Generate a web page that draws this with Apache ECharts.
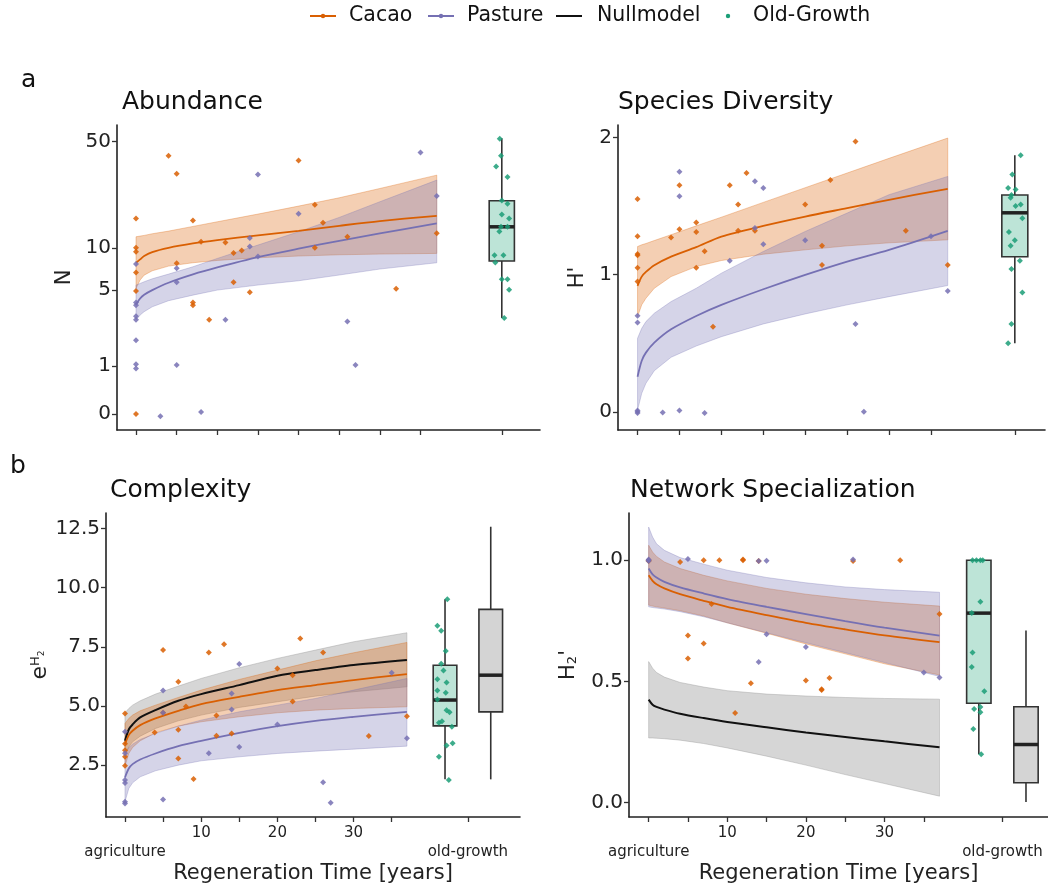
<!DOCTYPE html>
<html>
<head>
<meta charset="utf-8">
<script src="https://cdn.jsdelivr.net/npm/echarts@6/dist/echarts.min.js"></script>
<style>
  html, body { margin: 0; padding: 0; background: #fff; }
  #chart { width: 1048px; height: 888px; }
</style>
</head>
<body>
<div id="chart"></div>
<script>
var fitX = [0, 0.5, 1, 2, 4, 7, 10, 15, 20, 25, 30, 37];
var xTicks = [0, 5, 10, 15, 20, 25, 30, 35, 45];
var xTickLabels = [0, 10, 20, 30, 45];

// ---- a: Abundance (N, drawn on a log(N+1) axis)
var abTicks = [0, 1, 5, 10, 50];
var abCacaoFit = [7.87, 8.31, 8.77, 9.35, 10.0, 10.72, 11.3, 12.16, 13.07, 14.12, 15.18, 16.47];
var abCacaoHi = [11.91, 12.03, 12.16, 12.48, 13.0, 13.98, 15.02, 16.9, 19.09, 21.65, 24.9, 30.4];
var abCacaoLo = [5.13, 5.91, 6.42, 6.9, 7.45, 7.87, 8.17, 8.53, 8.77, 8.95, 9.05, 9.15];
var abPastFit = [3.86, 4.30, 4.59, 4.98, 5.65, 6.50, 7.29, 8.62, 9.86, 11.18, 12.54, 14.64];
var abPastHi = [5.43, 5.58, 5.74, 6.04, 6.53, 7.37, 8.44, 10.45, 12.87, 16.06, 20.39, 28.22];
var abPastLo = [2.88, 3.17, 3.38, 3.70, 4.13, 4.56, 4.98, 5.43, 5.84, 6.43, 7.10, 7.87];
var abCacaoPts = [[0,15.8],[0,10],[0,9.4],[0,6.7],[0,4.9],[0,0],[4,40.5],[5,31],[5,7.8],[7,15.3],[7,4],[7,3.8],[8,11],[9,2.9],[11,10.9],[12,9.2],[12,5.7],[13,9.6],[14,4.8],[20,37.8],[22,19.5],[22,10],[23,14.8],[26,11.9],[32,5.1],[37,12.6]];
var abPastPts = [[0,7.7],[0,4],[0,3.8],[0,3.1],[0,2.9],[0,1.9],[0,1.05],[0,0.93],[3,-0.03],[5,7.2],[5,5.7],[5,1.03],[8,0.03],[11,2.9],[14,11.7],[14,10.2],[15,30.7],[15,8.7],[20,17],[26,2.8],[27,1.03],[35,42.5],[37,22.2]];
var abOldPts = [[44.75,52],[44.9,40.5],[44.3,34.6],[45.7,29.6],[45,20.8],[45.7,19.8],[45,16.8],[45.9,15.8],[44.9,13.9],[45.7,13.9],[44.7,12.9],[44.1,8.9],[45.2,8.9],[44.2,7.9],[45,6],[45.7,6],[45.9,5],[45.3,3]];
var abOldBox = [45, 3.0, 8.1, 13.9, 20.7, 52.4];

// ---- a: Species Diversity (H')
var divTicks = [0, 1, 2];
var divCacaoFit = [0.917, 0.985, 1.019, 1.068, 1.131, 1.2, 1.277, 1.355, 1.423, 1.484, 1.545, 1.625];
var divCacaoHi = [1.204, 1.217, 1.226, 1.248, 1.29, 1.355, 1.418, 1.526, 1.633, 1.74, 1.847, 1.995];
var divCacaoLo = [0.693, 0.779, 0.827, 0.9, 0.985, 1.058, 1.102, 1.148, 1.18, 1.209, 1.231, 1.253];
var divPastFit = [0.255, 0.372, 0.431, 0.504, 0.601, 0.698, 0.779, 0.893, 0.998, 1.095, 1.18, 1.319];
var divPastHi = [0.535, 0.608, 0.657, 0.718, 0.803, 0.9, 1.01, 1.168, 1.314, 1.448, 1.582, 1.715];
var divPastLo = [0.012, 0.134, 0.207, 0.299, 0.397, 0.479, 0.547, 0.64, 0.713, 0.779, 0.839, 0.92];
var divCacaoPts = [[0,1.55],[0,1.28],[0,1.15],[0,1.14],[0,1.05],[0,0.95],[4,1.27],[5,1.65],[5,1.33],[7,1.38],[7,1.31],[7,1.05],[8,1.17],[9,0.62],[11,1.65],[12,1.51],[12,1.32],[13,1.74],[14,1.32],[20,1.51],[22,1.21],[22,1.07],[23,1.69],[26,1.97],[32,1.32],[37,1.07]];
var divPastPts = [[0,0.70],[0,0.65],[0,0],[0,-0.01],[0,0.01],[3,-0.005],[5,1.75],[5,1.57],[5,0.01],[8,-0.01],[11,1.10],[14,1.68],[14,1.34],[15,1.63],[15,1.22],[20,1.25],[26,0.64],[27,0],[35,1.28],[37,0.88]];
var divOldPts = [[45.7,1.87],[44.7,1.73],[44.2,1.63],[45.1,1.62],[44.5,1.56],[44.6,1.58],[45.7,1.51],[45.1,1.50],[45.9,1.41],[44.3,1.31],[45.0,1.25],[44.5,1.21],[45.6,1.10],[44.6,1.04],[45.9,0.87],[44.6,0.64],[44.2,0.50]];
var divOldBox = [45, 0.50, 1.13, 1.45, 1.58, 1.87];

// ---- b: Complexity (e^H2)
var cxTicks = [2.5, 5, 7.5, 10, 12.5];
var cxNullFit = [3.528, 4.007, 4.218, 4.514, 4.824, 5.218, 5.5, 5.88, 6.275, 6.514, 6.725, 6.937];
var cxNullHi = [4.711, 4.894, 5.035, 5.218, 5.5, 5.838, 6.162, 6.613, 7.007, 7.359, 7.711, 8.092];
var cxNullLo = [2.852, 3.275, 3.486, 3.725, 4.049, 4.373, 4.613, 4.937, 5.176, 5.415, 5.599, 5.81];
var cxCacaoFit = [3.387, 3.768, 3.951, 4.19, 4.472, 4.796, 5.077, 5.387, 5.669, 5.88, 6.092, 6.345];
var cxCacaoHi = [4.261, 4.472, 4.613, 4.796, 5.035, 5.359, 5.669, 6.12, 6.514, 6.908, 7.246, 7.683];
var cxCacaoLo = [2.458, 2.993, 3.246, 3.528, 3.866, 4.148, 4.331, 4.542, 4.711, 4.824, 4.894, 4.965];
var cxPastFit = [1.979, 2.359, 2.542, 2.739, 2.993, 3.303, 3.528, 3.866, 4.148, 4.373, 4.542, 4.754];
var cxPastHi = [2.965, 3.246, 3.387, 3.585, 3.838, 4.148, 4.401, 4.754, 5.035, 5.317, 5.669, 6.162];
var cxPastLo = [0.951, 1.514, 1.754, 2.007, 2.261, 2.5, 2.683, 2.852, 2.993, 3.092, 3.176, 3.303];
var cxCacaoPts = [[0,4.68],[0,3.4],[0,3.13],[0,2.85],[0,2.47],[3.9,3.88],[5,7.36],[5,4.71],[7,6.02],[7,4.0],[7,2.78],[8,4.98],[9,1.91],[11,7.26],[12,4.6],[12,3.74],[13,7.61],[14,3.84],[20,6.58],[22,6.30],[22,5.19],[23,7.85],[26,7.26],[32,3.73],[37,4.57]];
var cxPastPts = [[0,3.91],[0,3.0],[0,1.87],[0,1.75],[0,0.95],[0,0.88],[5,5.65],[5,4.71],[5,1.05],[11,3.0],[14,5.53],[14,4.85],[15,6.77],[15,3.27],[20,4.22],[26,1.78],[27,0.91],[35,6.4],[37,3.64]];
var cxOldPts = [[42.3,9.51],[41.0,8.39],[41.5,8.18],[42.1,7.32],[41.5,6.78],[41.8,6.5],[41.0,6.13],[42.2,5.99],[41.0,5.65],[42.1,5.56],[41.0,5.27],[42.2,4.82],[42.6,4.73],[41.2,4.29],[41.6,4.35],[42.9,4.12],[42.2,3.33],[43.0,3.43],[41.2,2.85],[42.5,1.87]];
var cxOldBox = [42, 1.9, 4.16, 5.25, 6.72, 9.51];
var cxNullBox = [48, 1.9, 4.75, 6.3, 9.08, 12.57];

// ---- b: Network Specialization (H2')
var nsTicks = [0, 0.5, 1.0];
var nsNullFit = [0.425, 0.404, 0.395, 0.384, 0.367, 0.349, 0.333, 0.311, 0.29, 0.271, 0.253, 0.229];
var nsNullHi = [0.582, 0.555, 0.537, 0.518, 0.496, 0.477, 0.462, 0.448, 0.44, 0.434, 0.43, 0.427];
var nsNullLo = [0.267, 0.267, 0.266, 0.264, 0.258, 0.244, 0.226, 0.192, 0.155, 0.116, 0.079, 0.027];
var nsCacaoFit = [0.938, 0.915, 0.901, 0.884, 0.86, 0.833, 0.808, 0.774, 0.742, 0.715, 0.69, 0.662];
var nsCacaoHi = [1.062, 1.034, 1.016, 0.993, 0.966, 0.938, 0.915, 0.884, 0.86, 0.842, 0.827, 0.811];
var nsCacaoLo = [0.815, 0.811, 0.808, 0.803, 0.792, 0.77, 0.742, 0.699, 0.655, 0.614, 0.573, 0.527];
var nsPastFit = [0.966, 0.942, 0.929, 0.911, 0.888, 0.863, 0.84, 0.808, 0.778, 0.749, 0.722, 0.689];
var nsPastHi = [1.137, 1.096, 1.068, 1.041, 1.011, 0.984, 0.959, 0.929, 0.907, 0.89, 0.879, 0.868];
var nsPastLo = [0.808, 0.805, 0.803, 0.799, 0.788, 0.767, 0.742, 0.701, 0.66, 0.619, 0.578, 0.521];
var nsCacaoPts = [[0,1.0],[0,0.997],[4,0.993],[5,0.69],[5,0.595],[7,1.0],[7,0.657],[8,0.82],[9,1.0],[11,0.37],[12,1.003],[12,1.0],[13,0.493],[14,0.997],[20,0.504],[22,0.468],[22,0.465],[23,0.514],[26,0.997],[32,1.0],[37,0.778]];
var nsPastPts = [[0,1.0],[0,0.997],[0,1.003],[5,1.005],[14,0.997],[14,0.58],[15,0.998],[15,0.695],[20,0.642],[26,1.003],[35,0.537],[37,0.516]];
var nsOldPts = [[41.2,1.0],[41.7,1.0],[42.2,1.0],[42.5,1.0],[42.2,0.829],[41.1,0.782],[41.2,0.62],[41.1,0.56],[42.7,0.46],[41.4,0.386],[42.2,0.395],[42.2,0.373],[41.3,0.304],[42.3,0.20]];
var nsOldBox = [42, 0.2, 0.41, 0.782, 1.0, 1.0];
var nsNullBox = [48, 0.003, 0.082, 0.24, 0.396, 0.71];

var ORANGE = '#D95F02', PURPLE = '#7570B3', GREEN = '#1B9E77', BLACK = '#111111';
var FONT = 'DejaVu Sans';
var ident = function (v) { return v; };

// confidence band as one polygon: upper edge left to right, lower edge back
function ribbon(gi, hi, lo, color, tf, op) {
    return {
        type: 'custom', xAxisIndex: gi, yAxisIndex: gi, z: 1, silent: true,
        data: [[fitX[0], tf(hi[0])]],
        renderItem: function (params, api) {
            var pts = [];
            for (var i = 0; i < fitX.length; i++) pts.push(api.coord([fitX[i], tf(hi[i])]));
            for (var j = fitX.length - 1; j >= 0; j--) pts.push(api.coord([fitX[j], tf(lo[j])]));
            return {
                type: 'polygon', shape: { points: pts },
                style: { fill: color, stroke: color, lineWidth: 1, opacity: op || 0.3 }
            };
        }
    };
}

function fitLine(gi, fit, color, tf, w) {
    return {
        type: 'line', xAxisIndex: gi, yAxisIndex: gi, z: 3, silent: true,
        showSymbol: false, smooth: 0.3,
        lineStyle: { color: color, width: w || 1.8 },
        data: fitX.map(function (x, i) { return [x, tf(fit[i])]; })
    };
}

function points(gi, pts, color, tf, z) {
    return {
        type: 'scatter', xAxisIndex: gi, yAxisIndex: gi, z: z || 4, silent: true,
        symbol: 'diamond', symbolSize: 6,
        itemStyle: { color: color, opacity: 0.85 },
        data: pts.map(function (p) { return [p[0], tf(p[1])]; })
    };
}

function box(gi, b, fill, tf) {
    var row = [b[0]].concat(b.slice(1).map(tf));
    return {
        type: 'custom', xAxisIndex: gi, yAxisIndex: gi, z: 2, silent: true,
        data: [row],
        renderItem: function (params, api) {
            var x = api.value(0);
            var half = api.size([1.55, 0])[0];
            var pMin = api.coord([x, api.value(1)]);
            var pQ1 = api.coord([x, api.value(2)]);
            var pMed = api.coord([x, api.value(3)]);
            var pQ3 = api.coord([x, api.value(4)]);
            var pMax = api.coord([x, api.value(5)]);
            var ln = { stroke: '#333', lineWidth: 1.6 };
            return {
                type: 'group', children: [
                    { type: 'line', shape: { x1: pMin[0], y1: pMin[1], x2: pQ1[0], y2: pQ1[1] }, style: ln },
                    { type: 'line', shape: { x1: pQ3[0], y1: pQ3[1], x2: pMax[0], y2: pMax[1] }, style: ln },
                    { type: 'rect', shape: { x: pQ1[0] - half, y: pQ3[1], width: 2 * half, height: pQ1[1] - pQ3[1] },
                      style: { fill: fill, stroke: '#333', lineWidth: 1.6 } },
                    { type: 'line', shape: { x1: pMed[0] - half, y1: pMed[1], x2: pMed[0] + half, y2: pMed[1] },
                      style: { stroke: '#222', lineWidth: 3.5 } }
                ]
            };
        }
    };
}

function xAxis(gi, min, max, labels) {
    return {
        type: 'value', gridIndex: gi, min: min, max: max,
        axisLine: { show: true, onZero: false, lineStyle: { color: '#222', width: 1.6 } },
        axisTick: { show: true, customValues: xTicks, length: 5, lineStyle: { color: '#333', width: 1.3 } },
        axisLabel: {
            show: labels, customValues: xTickLabels, fontSize: 15, color: '#222', fontFamily: FONT,
            lineHeight: 19, margin: 7,
            formatter: function (v) {
                if (v === 0) return '\nagriculture';
                if (v === 45) return '\nold-growth';
                return String(v);
            }
        },
        splitLine: { show: false },
        name: labels ? 'Regeneration Time [years]' : '',
        nameLocation: 'middle', nameGap: 44,
        nameTextStyle: { fontSize: 21, color: '#222', fontFamily: FONT }
    };
}

function yAxis(gi, min, max, ticks, tf, fmt, name, gap, rich) {
    var vals = ticks.map(tf);
    return {
        type: 'value', gridIndex: gi, min: min, max: max,
        axisLine: { show: true, onZero: false, lineStyle: { color: '#222', width: 1.6 } },
        axisTick: { show: true, customValues: vals, length: 5, lineStyle: { color: '#333', width: 1.3 } },
        axisLabel: { customValues: vals, fontSize: 20, color: '#222', fontFamily: FONT, margin: 6, formatter: fmt },
        splitLine: { show: false },
        name: name, nameLocation: 'middle', nameRotate: 90, nameGap: gap,
        nameTextStyle: { fontSize: 21, color: '#222', fontFamily: FONT, rich: rich }
    };
}

var chart = echarts.init(document.getElementById('chart'), null, { renderer: 'canvas' });

var series = [
    // Abundance
    ribbon(0, abCacaoHi, abCacaoLo, ORANGE, Math.log1p),
    ribbon(0, abPastHi, abPastLo, PURPLE, Math.log1p),
    fitLine(0, abCacaoFit, ORANGE, Math.log1p),
    fitLine(0, abPastFit, PURPLE, Math.log1p),
    points(0, abCacaoPts, ORANGE, Math.log1p),
    points(0, abPastPts, PURPLE, Math.log1p),
    box(0, abOldBox, '#bde4d7', Math.log1p),
    points(0, abOldPts, GREEN, Math.log1p, 5),
    // Species Diversity
    ribbon(1, divCacaoHi, divCacaoLo, ORANGE, ident),
    ribbon(1, divPastHi, divPastLo, PURPLE, ident),
    fitLine(1, divCacaoFit, ORANGE, ident),
    fitLine(1, divPastFit, PURPLE, ident),
    points(1, divCacaoPts, ORANGE, ident),
    points(1, divPastPts, PURPLE, ident),
    box(1, divOldBox, '#bde4d7', ident),
    points(1, divOldPts, GREEN, ident, 5),
    // Complexity
    ribbon(2, cxNullHi, cxNullLo, '#999999', ident, 0.4),
    ribbon(2, cxCacaoHi, cxCacaoLo, ORANGE, ident),
    ribbon(2, cxPastHi, cxPastLo, PURPLE, ident),
    fitLine(2, cxNullFit, BLACK, ident, 2),
    fitLine(2, cxCacaoFit, ORANGE, ident),
    fitLine(2, cxPastFit, PURPLE, ident),
    points(2, cxCacaoPts, ORANGE, ident),
    points(2, cxPastPts, PURPLE, ident),
    box(2, cxOldBox, '#bde4d7', ident),
    box(2, cxNullBox, '#d4d4d4', ident),
    points(2, cxOldPts, GREEN, ident, 5),
    // Network Specialization
    ribbon(3, nsNullHi, nsNullLo, '#999999', ident, 0.4),
    ribbon(3, nsCacaoHi, nsCacaoLo, ORANGE, ident),
    ribbon(3, nsPastHi, nsPastLo, PURPLE, ident),
    fitLine(3, nsNullFit, BLACK, ident, 2),
    fitLine(3, nsCacaoFit, ORANGE, ident),
    fitLine(3, nsPastFit, PURPLE, ident),
    points(3, nsCacaoPts, ORANGE, ident),
    points(3, nsPastPts, PURPLE, ident),
    box(3, nsOldBox, '#bde4d7', ident),
    box(3, nsNullBox, '#d4d4d4', ident),
    points(3, nsOldPts, GREEN, ident, 5)
];

function txt(x, y, s, size) {
    return { type: 'text', x: x, y: y, style: { text: s, fontSize: size, fill: '#111', fontFamily: FONT, verticalAlign: 'middle' } };
}

var legendY = 16;
var graphics = [
    { type: 'line', shape: { x1: 310, y1: legendY, x2: 336, y2: legendY }, style: { stroke: ORANGE, lineWidth: 2 } },
    { type: 'circle', shape: { cx: 323, cy: legendY, r: 2.2 }, style: { fill: ORANGE } },
    txt(349, legendY, 'Cacao', 20.5),
    { type: 'line', shape: { x1: 428, y1: legendY, x2: 454, y2: legendY }, style: { stroke: PURPLE, lineWidth: 2 } },
    { type: 'circle', shape: { cx: 441, cy: legendY, r: 2.2 }, style: { fill: PURPLE } },
    txt(467, legendY, 'Pasture', 20.5),
    { type: 'line', shape: { x1: 556, y1: legendY, x2: 582, y2: legendY }, style: { stroke: BLACK, lineWidth: 2 } },
    txt(597, legendY, 'Nullmodel', 20.5),
    { type: 'circle', shape: { cx: 728, cy: legendY, r: 2.2 }, style: { fill: GREEN } },
    txt(753, legendY, 'Old-Growth', 20.5),
    txt(21, 80, 'a', 25),
    txt(10, 466, 'b', 25),
    txt(122, 102, 'Abundance', 25),
    txt(618, 102, 'Species Diversity', 25),
    txt(110, 490, 'Complexity', 25),
    txt(630, 490, 'Network Specialization', 25)
];

chart.setOption({
    backgroundColor: '#ffffff',
    animation: false,
    textStyle: { fontFamily: FONT },
    grid: [
        { left: 117, top: 125, width: 423, height: 305 },
        { left: 618, top: 125, width: 427, height: 305 },
        { left: 106, top: 513, width: 414, height: 304 },
        { left: 629, top: 513, width: 419, height: 304 }
    ],
    xAxis: [
        xAxis(0, -2.34, 49.7, false),
        xAxis(1, -2.33, 48.6, false),
        xAxis(2, -2.49, 51.84, true),
        xAxis(3, -2.5, 50.8, true)
    ],
    yAxis: [
        yAxis(0, -0.23, 4.17, abTicks, Math.log1p, function (v) { return String(Math.round(Math.expm1(v))); }, 'N', 42),
        yAxis(1, -0.133, 2.09, divTicks, ident, function (v) { return String(v); }, "H'", 30),
        yAxis(2, 0.31, 13.15, cxTicks, ident, function (v) { return v.toFixed(1); },
            '{e|e}{h|H}{s|2}', 54,
            { e: { fontSize: 22, fontFamily: FONT, color: '#222' },
              h: { fontSize: 13, fontFamily: FONT, color: '#222', verticalAlign: 'top' },
              s: { fontSize: 9, fontFamily: FONT, color: '#222', verticalAlign: 'top', padding: [8, 0, 0, 0] } }),
        yAxis(3, -0.059, 1.195, nsTicks, ident, function (v) { return v.toFixed(1); },
            "{h|H}{s|2}{p|'}", 50,
            { h: { fontSize: 21, fontFamily: FONT, color: '#222' },
              s: { fontSize: 13, fontFamily: FONT, color: '#222', verticalAlign: 'bottom' },
              p: { fontSize: 21, fontFamily: FONT, color: '#222' } })
    ],
    graphic: graphics,
    series: series
});
</script>
</body>
</html>
